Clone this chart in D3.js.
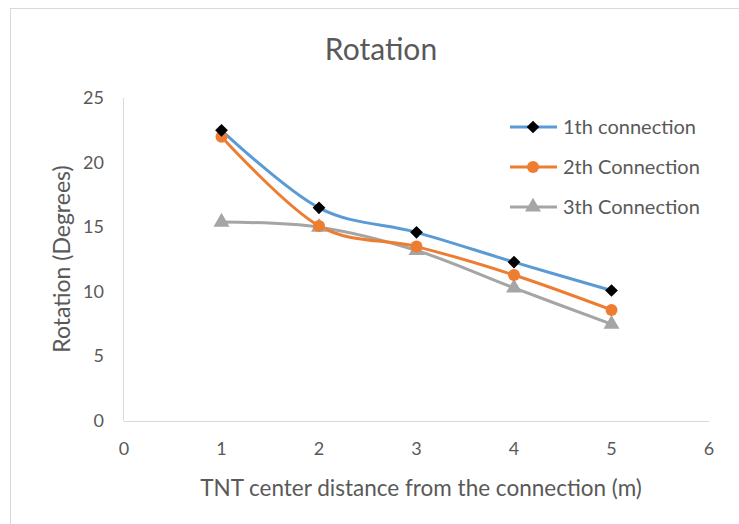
<!DOCTYPE html>
<html><head><meta charset="utf-8">
<script src="https://cdn.jsdelivr.net/npm/d3@7"></script>
<style>body{margin:0;background:#fff;}svg{display:block;font-family:Lato,"Open Sans",sans-serif;}</style>
</head><body>
<svg id="c" width="739" height="524"></svg>
<script>
const xValues = [1, 2, 3, 4, 5];
const seriesNames = ["1th connection", "2th Connection", "3th Connection"];
const series1 = [22.5, 16.5, 14.6, 12.3, 10.1];
const series2 = [22.0, 15.1, 13.5, 11.3, 8.6];
const series3 = [15.4, 15.0, 13.2, 10.3, 7.5];
const xTicks = [0, 1, 2, 3, 4, 5, 6];
const yTicks = [0, 5, 10, 15, 20, 25];
const colors = ["#5b9bd5", "#ed7d31", "#a5a5a5"];
const markerColors = ["#000000", "#ed7d31", "#a5a5a5"];

const svg = d3.select("#c");
const txt = "#595959";
svg.append("rect").attr("x", 10.5).attr("y", 8.5).attr("width", 760).attr("height", 540)
  .attr("fill", "none").attr("stroke", "#d9d9d9").attr("stroke-width", 1);

const x = d3.scaleLinear().domain([0, 6]).range([124, 709]);
const y = d3.scaleLinear().domain([0, 25]).range([421, 98]);

svg.append("line").attr("x1", x(0)).attr("x2", x(6)).attr("y1", y(0) + 0.5).attr("y2", y(0) + 0.5).attr("stroke", "#d9d9d9");
svg.append("line").attr("x1", x(0) - 0.5).attr("x2", x(0) - 0.5).attr("y1", y(25)).attr("y2", y(0)).attr("stroke", "#d9d9d9");

svg.selectAll(".xt").data(xTicks).enter().append("text")
  .attr("x", d => x(d)).attr("y", 455).attr("text-anchor", "middle")
  .attr("font-size", 18).attr("fill", txt).text(d => d);
svg.selectAll(".yt").data(yTicks).enter().append("text")
  .attr("x", 104).attr("y", d => y(d) + 6).attr("text-anchor", "end")
  .attr("font-size", 18).attr("fill", txt).text(d => d);

svg.append("text").attr("x", 381).attr("y", 60).attr("text-anchor", "middle")
  .attr("font-size", 30).attr("fill", txt).text("Rotation");
svg.append("text").attr("x", 421).attr("y", 496).attr("text-anchor", "middle")
  .attr("font-size", 22.5).attr("fill", txt).text("TNT center distance from the connection (m)");
svg.append("text").attr("transform", "translate(70,259) rotate(-90)").attr("text-anchor", "middle")
  .attr("font-size", 23).attr("fill", txt).text("Rotation (Degrees)");

const all = [series1, series2, series3];
const line = d3.line().x((d, i) => x(xValues[i])).y(d => y(d)).curve(d3.curveCardinal.tension(0));

function marker(sel, k) {
  if (k === 0) sel.append("rect").attr("x", -4.5).attr("y", -4.5).attr("width", 9).attr("height", 9)
      .attr("transform", "rotate(45)").attr("fill", markerColors[k]);
  else if (k === 1) sel.append("circle").attr("r", 6).attr("fill", markerColors[k]);
  else sel.append("path").attr("d", d3.symbol().type(d3.symbolTriangle).size(110)).attr("fill", markerColors[k]);
}

[2, 1, 0].forEach(k => {
  svg.append("path").attr("d", line(all[k])).attr("fill", "none")
    .attr("stroke", colors[k]).attr("stroke-width", 3).attr("stroke-linecap", "round");
});
[2, 1, 0].forEach(k => {
  svg.selectAll(".m" + k).data(all[k]).enter().append("g")
    .attr("transform", (d, i) => `translate(${x(xValues[i])},${y(d)})`)
    .each(function () { marker(d3.select(this), k); });
});

const ly = [127, 167, 207];
seriesNames.forEach((n, k) => {
  svg.append("line").attr("x1", 510).attr("x2", 557).attr("y1", ly[k]).attr("y2", ly[k])
    .attr("stroke", colors[k]).attr("stroke-width", 3);
  marker(svg.append("g").attr("transform", `translate(533,${ly[k]})`), k);
  svg.append("text").attr("x", 563).attr("y", ly[k] + 7).attr("font-size", 20)
    .attr("fill", txt).text(n);
});
</script>
</body></html>
